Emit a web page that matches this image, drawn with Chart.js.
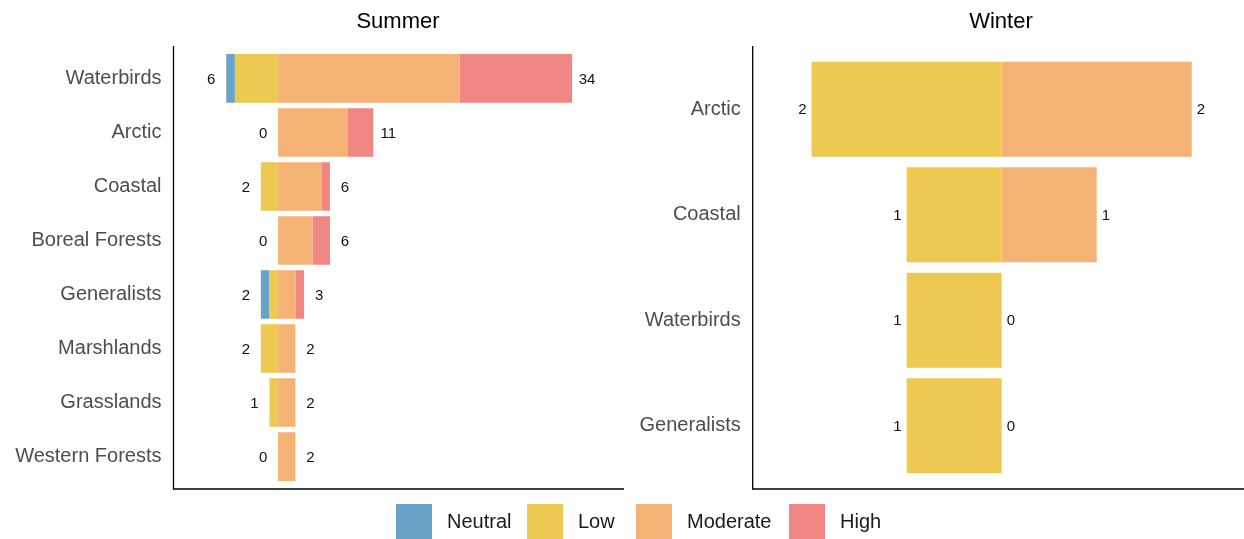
<!DOCTYPE html>
<html>
<head>
<meta charset="utf-8">
<script src="https://cdn.jsdelivr.net/npm/chart.js@4"></script>
<style>
  body { margin:0; background:#fff; font-family:"Liberation Sans", Arial, sans-serif; }
  #wrap { position:relative; width:1244px; height:539px; overflow:hidden; }
  canvas { position:absolute; top:0; }
  .title { position:absolute; top:8px; font-size:22px; color:#000; transform:translateX(-50%); white-space:nowrap; }
  .sw { position:absolute; top:504px; width:36px; height:36px; }
  .lb { position:absolute; top:510px; font-size:20px; color:#1a1a1a; white-space:nowrap; }
</style>
</head>
<body>
<div id="wrap">
  <canvas id="summer" width="640" height="513" style="left:0"></canvas>
  <canvas id="winter" width="614" height="513" style="left:630px"></canvas>
  <div class="title" style="left:398px">Summer</div>
  <div class="title" style="left:1001px">Winter</div>
</div>
<script>
// summer
const summerCats = ['Waterbirds','Arctic','Coastal','Boreal Forests','Generalists','Marshlands','Grasslands','Western Forests'];
const summerNeutral  = [1, 0, 0, 0, 1, 0, 0, 0];
const summerLow      = [5, 0, 2, 0, 1, 2, 1, 0];
const summerModerate = [21, 8, 5, 4, 2, 2, 2, 2];
const summerHigh     = [13, 3, 1, 2, 1, 0, 0, 0];

// winter
const winterCats = ['Arctic','Coastal','Waterbirds','Generalists'];
const winterNeutral  = [0, 0, 0, 0];
const winterLow      = [2, 1, 1, 1];
const winterModerate = [2, 1, 0, 0];
const winterHigh     = [0, 0, 0, 0];

const levels = ['Neutral','Low','Moderate','High'];
const colors = { Neutral:'#69A3C8', Low:'#EDC951', Moderate:'#F4B275', High:'#F08784' };

const FONT = '"Liberation Sans", Arial, sans-serif';

// legend (key x positions)
const legendX = [396, 527, 636, 789];
const wrap = document.getElementById('wrap');
levels.forEach((l, i) => {
  wrap.innerHTML += `<div class="sw" style="left:${legendX[i]}px;background:${colors[l]}"></div>` +
                    `<div class="lb" style="left:${legendX[i] + 51}px">${l}</div>`;
});

const axesLines = {
  id:'axesLines',
  afterDraw(chart){
    const a = chart.chartArea, c = chart.ctx;
    c.save();
    c.strokeStyle = '#000'; c.lineWidth = 1.3;
    c.beginPath();
    c.moveTo(a.left, a.top); c.lineTo(a.left, a.bottom); c.lineTo(a.right, a.bottom);
    c.stroke();
    c.restore();
  }
};

const totals = {
  id:'totals',
  afterDatasetsDraw(chart, args, opts){
    const c = chart.ctx, xs = chart.scales.x, ys = chart.scales.y;
    c.save();
    c.font = '15px ' + FONT; c.fillStyle = '#111';
    c.textAlign = 'center'; c.textBaseline = 'middle';
    opts.left.forEach((v, i) => {
      const y = ys.getPixelForValue(i) + 1;
      c.fillText(String(v), xs.getPixelForValue(-v) - opts.offset, y);
      c.fillText(String(opts.right[i]), xs.getPixelForValue(opts.right[i]) + opts.offset, y);
    });
    c.restore();
  }
};

function makeChart(id, cats, neutral, low, moderate, high, xmin, xmax, axisW, padRight, offset){
  const pts = (arr, sign) => arr.map((v, i) => ({ x: sign * v, y: i }));
  const ds = (label, arr, sign) => ({ label, data: pts(arr, sign), backgroundColor: colors[label], borderWidth: 0 });
  new Chart(document.getElementById(id), {
    type:'bar',
    data:{ datasets:[
      ds('Low', low, -1), ds('Neutral', neutral, -1),
      ds('Moderate', moderate, 1), ds('High', high, 1)
    ]},
    options:{
      indexAxis:'y', responsive:false, animation:false, devicePixelRatio:1,
      categoryPercentage:1, barPercentage:0.9,
      layout:{ padding:{ top:46, right:padRight, bottom:6, left:0 } },
      plugins:{ legend:{ display:false }, tooltip:{ enabled:false },
        totals:{ left: low.map((v, i) => v + neutral[i]), right: moderate.map((v, i) => v + high[i]), offset } },
      scales:{
        x:{ type:'linear', stacked:true, min:xmin, max:xmax, display:false },
        y:{ type:'linear', stacked:true, reverse:true, offset:false, min:-0.6, max:cats.length - 0.4,
          grid:{ display:false, drawTicks:false, offset:false }, border:{ display:false },
          afterBuildTicks: s => { s.ticks = cats.map((c, i) => ({ value:i })); },
          afterFit: s => { s.width = axisW; },
          ticks:{ autoSkip:false, padding:12, color:'#4D4D4D', font:{ family:FONT, size:20 },
            callback: v => cats[v] } }
      }
    },
    plugins:[axesLines, totals]
  });
}

makeChart('summer', summerCats, summerNeutral, summerLow, summerModerate, summerHigh, -12.1, 40.0, 173.5, 16, 15);
makeChart('winter', winterCats, winterNeutral, winterLow, winterModerate, winterHigh, -2.62, 2.55, 122.7, 0, 9.3);
</script>
</body>
</html>
